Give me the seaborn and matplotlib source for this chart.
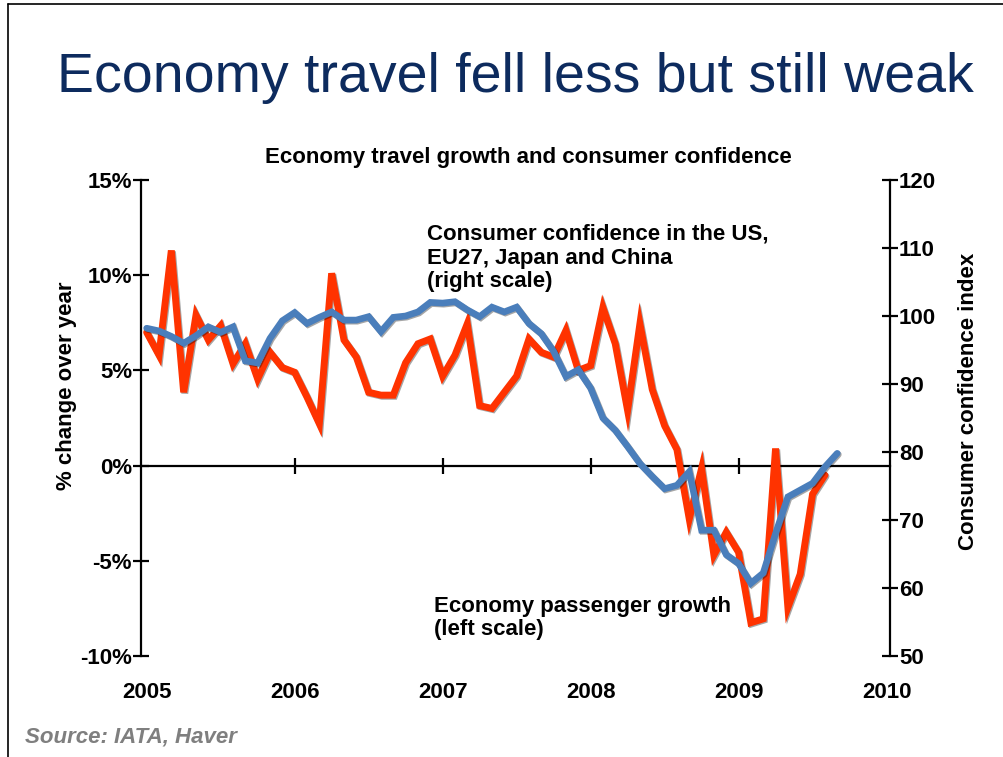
import matplotlib
matplotlib.use("Agg")
import matplotlib.pyplot as plt
import matplotlib.patheffects as pe
from matplotlib.lines import Line2D
import pandas as pd
import seaborn as sns

# monthly values, Jan 2005 onwards
passenger_growth = [
    7.0, 5.8, 11.3, 3.85, 7.9, 6.6, 7.35, 5.35, 6.4, 4.55, 5.95, 5.15,
    4.9, 3.6, 2.2, 10.1, 6.6, 5.7, 3.85, 3.7, 3.7, 5.4, 6.4, 6.65,
    4.7, 5.8, 7.45, 3.15, 3.0, 3.85, 4.7, 6.65, 5.95, 5.7, 7.1, 5.0,
    5.25, 8.3, 6.4, 2.9, 7.45, 4.0, 2.1, 0.85, -2.8, -0.15, -4.7, -3.5,
    -4.55, -8.25, -8.05, 0.9, -7.45, -5.7, -1.5, -0.5,
]
consumer_confidence = [
    98.2, 97.8, 97.0, 96.0, 97.1, 98.4, 97.6, 98.4, 93.4, 93.1, 96.7, 99.3,
    100.5, 98.9, 99.8, 100.6, 99.4, 99.4, 99.9, 97.7, 99.8, 100.0, 100.6, 102.0,
    101.9, 102.1, 100.9, 99.9, 101.3, 100.6, 101.3, 98.9, 97.4, 94.8, 91.1, 92.1,
    89.4, 85.0, 83.2, 80.8, 78.3, 76.4, 74.6, 75.1, 77.1, 68.5, 68.5, 64.9,
    63.6, 60.7, 62.2, 68.0, 73.4, 74.4, 75.4, 77.8, 79.8,
]
years = ["2005", "2006", "2007", "2008", "2009", "2010"]
left_ticks = [-10, -5, 0, 5, 10, 15]
right_ticks = [50, 60, 70, 80, 90, 100, 110, 120]

red = "#FF3300"
blue = "#4A7EBB"
navy = "#0D2B5E"

growth = pd.DataFrame({"month": range(len(passenger_growth)), "value": passenger_growth})
conf = pd.DataFrame({"month": range(len(consumer_confidence)), "value": consumer_confidence})

sns.set_style("white")
plt.rcParams["font.family"] = ["Liberation Sans", "DejaVu Sans"]
plt.rcParams["text.color"] = "black"
plt.rcParams["xtick.color"] = "black"
plt.rcParams["ytick.color"] = "black"
plt.rcParams["axes.labelcolor"] = "black"

fig = plt.figure(figsize=(10.04, 7.57), dpi=100)
ax = fig.add_axes([141 / 1004, 1 - 656 / 757, (890 - 141) / 1004, (656 - 180) / 757])
ax2 = ax.twinx()

shadow = [pe.SimpleLineShadow(offset=(0.8, -0.8), alpha=0.35), pe.Normal()]
sns.lineplot(data=growth, x="month", y="value", ax=ax, color=red, linewidth=5,
             solid_joinstyle="miter", path_effects=shadow, zorder=3)
sns.lineplot(data=conf, x="month", y="value", ax=ax2, color=blue, linewidth=4.8,
             solid_joinstyle="miter", path_effects=shadow, zorder=4)

ax.set_xlim(-0.46, 60.28)
ax.set_ylim(-10, 15)
ax2.set_ylim(50, 120)

ax.set_yticks(left_ticks)
ax.set_yticklabels([f"{t}%" for t in left_ticks])
ax2.set_yticks(right_ticks)
ax2.set_yticklabels([str(t) for t in right_ticks])

year_pos = [12 * i for i in range(len(years))]
ax.set_xticks(year_pos)
ax.set_xticklabels(years)
ax.tick_params(axis="x", length=0, pad=19, labelsize=16, labelcolor="black")
for lab in ax.get_xticklabels():
    lab.set_fontweight("bold")

for a in (ax, ax2):
    for s in ("top", "bottom"):
        a.spines[s].set_visible(False)
    a.set_xlabel("")
    a.set_ylabel("")
ax.spines["right"].set_visible(False)
ax2.spines["left"].set_visible(False)
ax.spines["left"].set_linewidth(1.6)
ax2.spines["right"].set_linewidth(1.6)
ax.spines["left"].set_color("black")
ax2.spines["right"].set_color("black")

for a in (ax, ax2):
    a.tick_params(axis="y", direction="inout", length=11, width=1.6, labelsize=16, pad=1,
                  color="black", labelcolor="black")
for lab in ax.get_yticklabels() + ax2.get_yticklabels():
    lab.set_fontweight("bold")

# zero line acting as the category axis
zero = ax.secondary_xaxis(10 / 25)
zero.spines["bottom"].set_linewidth(1.6)
zero.spines["bottom"].set_color("black")
zero.set_xticks(year_pos[1:-1])
zero.tick_params(axis="x", direction="inout", length=11, width=1.6, labelbottom=False,
                 color="black")

ax.text(-0.1, 0.567, "% change over year", transform=ax.transAxes, rotation=90,
        ha="center", va="center", fontsize=16, fontweight="bold", color="black")
ax2.text(1.105, 0.534, "Consumer confidence index", transform=ax2.transAxes, rotation=90,
         ha="center", va="center", fontsize=16, fontweight="bold", color="black")

ax.text(22.7, 10.9, "Consumer confidence in the US,\nEU27, Japan and China\n(right scale)",
        ha="left", va="center", fontsize=16, fontweight="bold", linespacing=1.18,
        color="black")
ax.text(23.3, -8.0, "Economy passenger growth\n(left scale)",
        ha="left", va="center", fontsize=16, fontweight="bold", linespacing=1.1,
        color="black")

fig.text(515 / 1004, 1 - 92 / 757, "Economy travel fell less but still weak",
         ha="center", va="baseline", fontsize=40, color=navy)
fig.text(528 / 1004, 1 - 157 / 757, "Economy travel growth and consumer confidence",
         ha="center", va="center", fontsize=16, fontweight="bold", color="black")
fig.text(25 / 1004, 1 - 737 / 757, "Source: IATA, Haver", ha="left", va="center",
         fontsize=16, fontweight="bold", fontstyle="italic", color="#7F7F7F")

fig.add_artist(Line2D([8 / 1004, 8 / 1004], [0, 1 - 4 / 757], color="black", lw=1.2))
fig.add_artist(Line2D([8 / 1004, 1], [1 - 4 / 757, 1 - 4 / 757], color="black", lw=1.2))

fig.savefig("out.png", dpi=100)
